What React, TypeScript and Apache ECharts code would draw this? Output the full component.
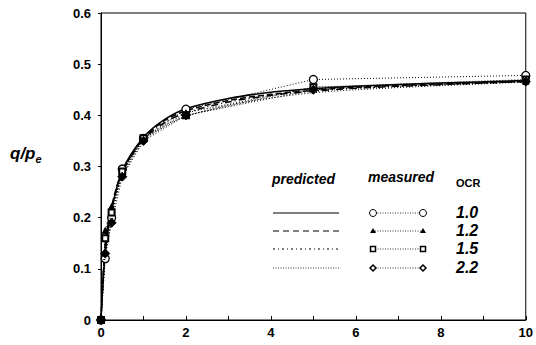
import React, { useEffect, useRef } from "react";
import * as echarts from "echarts";

// Measured points (x = normalised time, y = q/p_e)
const measuredX = [0, 0.1, 0.25, 0.5, 1, 2, 5, 10];
const measured10 = [0, 0.12, 0.2, 0.295, 0.355, 0.412, 0.47, 0.478];
const measured12 = [0, 0.175, 0.222, 0.285, 0.356, 0.405, 0.455, 0.466];
const measured15 = [0, 0.16, 0.21, 0.29, 0.355, 0.4, 0.455, 0.47];
const measured22 = [0, 0.13, 0.19, 0.28, 0.35, 0.4, 0.45, 0.466];

// Predicted curves
const predX = [0, 0.1, 0.25, 0.5, 1, 1.5, 2, 3, 4, 5, 6, 8, 10];
const pred10 = [0, 0.13, 0.215, 0.292, 0.357, 0.392, 0.413, 0.433, 0.445, 0.452, 0.457, 0.463, 0.468];
const pred12 = [0, 0.15, 0.222, 0.29, 0.355, 0.39, 0.409, 0.429, 0.441, 0.449, 0.455, 0.461, 0.466];
const pred15 = [0, 0.14, 0.215, 0.288, 0.353, 0.386, 0.405, 0.426, 0.439, 0.447, 0.453, 0.46, 0.466];
const pred22 = [0, 0.12, 0.2, 0.28, 0.348, 0.38, 0.398, 0.42, 0.434, 0.444, 0.45, 0.458, 0.465];

const ocrLabels = ["1.0", "1.2", "1.5", "2.2"];

const pair = (xs: number[], ys: number[]) => xs.map((x, i) => [x, ys[i]]);

const FONT = "Liberation Sans";

export default function App() {
  const ref = useRef<HTMLDivElement>(null);
  useEffect(() => {
    if (!ref.current) return;
    const chart = echarts.init(ref.current, null, { renderer: "svg" });
    const predStyles: any[] = ["solid", "dashed", [7, 3, 1, 3], [1, 2]];
    const predData = [pred10, pred12, pred15, pred22];
    const measData = [measured10, measured12, measured15, measured22];
    const symbols = ["circle", "triangle", "rect", "diamond"];
    const symSizes = [8, 6, 6, 9];
    const fills = ["#fff", "#000", "#fff", "#000"];
    const borders = [1.3, 1, 2, 1];

    const series: any[] = [];
    predData.forEach((d, i) => {
      series.push({
        type: "line",
        data: pair(predX, d),
        smooth: 0.3,
        showSymbol: false,
        symbol: "none",
        lineStyle: { color: "#000", width: i === 3 ? 1 : 1.5, type: predStyles[i] },
        z: 2,
      });
    });
    measData.forEach((d, i) => {
      series.push({
        type: "line",
        data: pair(measuredX, d),
        clip: false,
        symbol: symbols[i],
        symbolSize: symSizes[i],
        itemStyle: { color: fills[i], borderColor: "#000", borderWidth: borders[i] },
        lineStyle: { color: "#000", width: 1, type: [1, 2] },
        z: 3 + i,
      });
    });

    // legend block
    const rowsY = [213, 231, 249, 268];
    const graphic: any[] = [
      { type: "text", left: 272, top: 172, style: { text: "predicted", font: `italic bold 14px ${FONT}`, fill: "#000" } },
      { type: "text", left: 368, top: 170, style: { text: "measured", font: `italic bold 14px ${FONT}`, fill: "#000" } },
      { type: "text", left: 456, top: 177, style: { text: "OCR", font: `bold 11px ${FONT}`, fill: "#000" } },
    ];
    rowsY.forEach((y, i) => {
      graphic.push({
        type: "line",
        shape: { x1: 273, y1: y, x2: 339, y2: y },
        style: { stroke: "#000", lineWidth: i === 3 ? 0.8 : 1, lineDash: i === 0 ? null : i === 1 ? [6, 4] : i === 2 ? [2, 3, 1, 3] : [1, 1.5] },
      });
      graphic.push({
        type: "line",
        shape: { x1: 375, y1: y, x2: 421, y2: y },
        style: { stroke: "#000", lineWidth: 0.8, lineDash: [1, 1.5] },
      });
      [373, 423].forEach((cx) => {
        if (i === 0) {
          graphic.push({ type: "circle", shape: { cx, cy: y, r: 3.5 }, style: { fill: "#fff", stroke: "#000", lineWidth: 1 } });
        } else if (i === 1) {
          graphic.push({ type: "polygon", shape: { points: [[cx, y - 3], [cx - 3, y + 2], [cx + 3, y + 2]] }, style: { fill: "#000" } });
        } else if (i === 2) {
          graphic.push({ type: "rect", shape: { x: cx - 2.5, y: y - 2.5, width: 5, height: 5 }, style: { fill: "#fff", stroke: "#000", lineWidth: 1.5 } });
        } else {
          graphic.push({ type: "polygon", shape: { points: [[cx, y - 3], [cx + 3, y], [cx, y + 3], [cx - 3, y]] }, style: { fill: "#fff", stroke: "#000", lineWidth: 1.5 } });
        }
      });
      graphic.push({ type: "text", left: 456, top: y - 9, style: { text: ocrLabels[i], font: `italic bold 16px ${FONT}`, fill: "#000" } });
    });
    // y-axis title
    graphic.push({
      type: "text",
      left: 10,
      top: 145,
      style: {
        text: "{q|q/p}{s|e}",
        rich: {
          q: { font: `italic bold 17px ${FONT}`, fill: "#000" },
          s: { font: `italic bold 11px ${FONT}`, fill: "#000", padding: [10, 0, 0, 0] },
        },
      },
    });

    chart.setOption({
      animation: false,
      grid: { left: 101, right: 8, top: 13, bottom: 25, show: true, borderColor: "#000", borderWidth: 1 },
      xAxis: {
        type: "value",
        min: 0,
        max: 10,
        interval: 1,
        axisLine: { lineStyle: { color: "#000", width: 1 } },
        axisTick: { inside: true, length: 4, lineStyle: { color: "#000" } },
        axisLabel: {
          color: "#000",
          fontFamily: FONT,
          fontWeight: "bold",
          fontSize: 13,
          margin: 6,
          formatter: (v: number) => (v % 2 === 0 ? String(v) : ""),
        },
        splitLine: { show: false },
      },
      yAxis: {
        type: "value",
        min: 0,
        max: 0.6,
        interval: 0.1,
        axisLine: { lineStyle: { color: "#000", width: 1 } },
        axisTick: { length: 3, lineStyle: { color: "#000" } },
        axisLabel: {
          color: "#000",
          fontFamily: FONT,
          fontWeight: "bold",
          fontSize: 13,
          margin: 10,
          formatter: (v: number) => (v === 0 ? "0" : v.toFixed(1)),
        },
        splitLine: { show: false },
      },
      series,
      graphic,
    });
    return () => chart.dispose();
  }, []);
  return <div ref={ref} style={{ width: 536, height: 345, position: "absolute", left: 0, top: 0, background: "#fff" }} />;
}
